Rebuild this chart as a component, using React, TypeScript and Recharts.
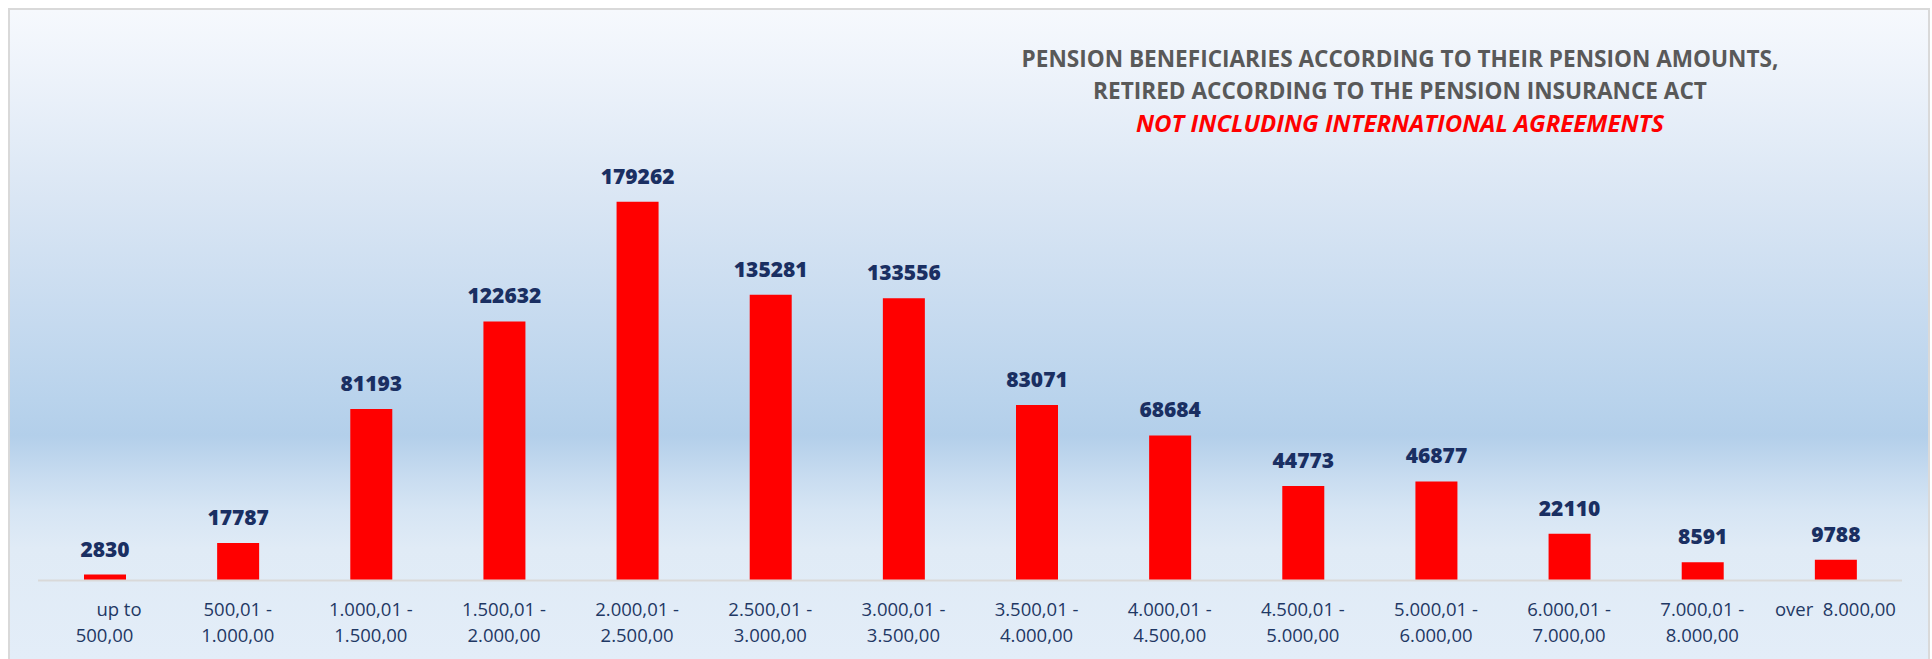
import { BarChart, Bar, XAxis, YAxis, LabelList } from "recharts";

// pension brackets (category keys) and how they are printed under the axis
const categories = [
  "up to 500,00",
  "500,01 - 1.000,00",
  "1.000,01 - 1.500,00",
  "1.500,01 - 2.000,00",
  "2.000,01 - 2.500,00",
  "2.500,01 - 3.000,00",
  "3.000,01 - 3.500,00",
  "3.500,01 - 4.000,00",
  "4.000,01 - 4.500,00",
  "4.500,01 - 5.000,00",
  "5.000,01 - 6.000,00",
  "6.000,01 - 7.000,00",
  "7.000,01 - 8.000,00",
  "over 8.000,00",
];

const tickLines: string[][] = [
  ["\u00a0\u00a0\u00a0\u00a0\u00a0\u00a0up to", "500,00"],
  ["500,01 -", "1.000,00"],
  ["1.000,01 -", "1.500,00"],
  ["1.500,01 -", "2.000,00"],
  ["2.000,01 -", "2.500,00"],
  ["2.500,01 -", "3.000,00"],
  ["3.000,01 -", "3.500,00"],
  ["3.500,01 -", "4.000,00"],
  ["4.000,01 -", "4.500,00"],
  ["4.500,01 -", "5.000,00"],
  ["5.000,01 -", "6.000,00"],
  ["6.000,01 -", "7.000,00"],
  ["7.000,01 -", "8.000,00"],
  ["over\u00a0\u00a08.000,00"],
];

const beneficiaries = [2830, 17787, 81193, 122632, 179262, 135281, 133556, 83071, 68684, 44773, 46877, 22110, 8591, 9788];

const titleLines = [
  "PENSION BENEFICIARIES ACCORDING TO THEIR PENSION AMOUNTS,",
  "RETIRED ACCORDING TO THE PENSION INSURANCE ACT",
];
const subtitle = "NOT INCLUDING INTERNATIONAL AGREEMENTS";

const data = categories.map((category, i) => ({ category, value: beneficiaries[i] }));

const FONT = "'Open Sans', sans-serif";
const NAVY = "#1F3864";

function CategoryTick({ x, y, payload }: any) {
  const lines = tickLines[categories.indexOf(payload.value)] ?? [String(payload.value)];
  return (
    <text x={x} y={y} textAnchor="middle" fill={NAVY} fontFamily={FONT} fontSize={18.5}>
      {lines.map((line, i) => (
        <tspan key={i} x={x} y={y + 35 + i * 26.5}>
          {line}
        </tspan>
      ))}
    </text>
  );
}

export default function App() {
  return (
    <div
      style={{
        position: "absolute",
        left: 8,
        top: 8,
        width: 1922,
        height: 651,
        boxSizing: "border-box",
        border: "2px solid #D9D9D9",
        borderBottom: "none",
        background:
          "linear-gradient(to bottom, #F6F9FD 0%, #EFF4FB 8%, #E6EEF8 17%, #DAE6F4 29%, #C9DCF0 45%, #B9D3EC 60%, #B3CFEA 65.6%, #C8DCF0 72%, #D6E5F4 77%, #E0EBF6 83%, #E3EDF8 100%)",
      }}
    >
      <BarChart
        width={1918}
        height={649}
        data={data}
        margin={{ top: 148, right: 26, left: 28, bottom: 0 }}
        barSize={42}
      >
        <XAxis
          dataKey="category"
          interval={0}
          height={78.5}
          tickSize={0}
          tickMargin={0}
          tickLine={false}
          axisLine={{ stroke: "#D9D9D9", strokeWidth: 2 }}
          tick={<CategoryTick />}
        />
        <YAxis hide domain={[0, 200000]} />
        <Bar dataKey="value" fill="#FF0000" isAnimationActive={false}>
          <LabelList
            dataKey="value"
            position="top"
            offset={18}
            fill="#1A2F62"
            fontFamily={FONT}
            fontWeight={800}
            fontSize={21}
          />
        </Bar>
      </BarChart>
      <svg
        width={1918}
        height={160}
        style={{ position: "absolute", left: 0, top: 0, pointerEvents: "none" }}
      >
        <g fontFamily={FONT} fontWeight={700} textAnchor="middle">
          <text x={1390} y={57} fill="#595959" fontSize={22.6}>
            {titleLines[0]}
          </text>
          <text x={1390} y={89} fill="#595959" fontSize={22.6}>
            {titleLines[1]}
          </text>
          <text x={1390} y={122} fill="#FF0000" fontStyle="italic" fontSize={24}>
            {subtitle}
          </text>
        </g>
      </svg>
    </div>
  );
}
